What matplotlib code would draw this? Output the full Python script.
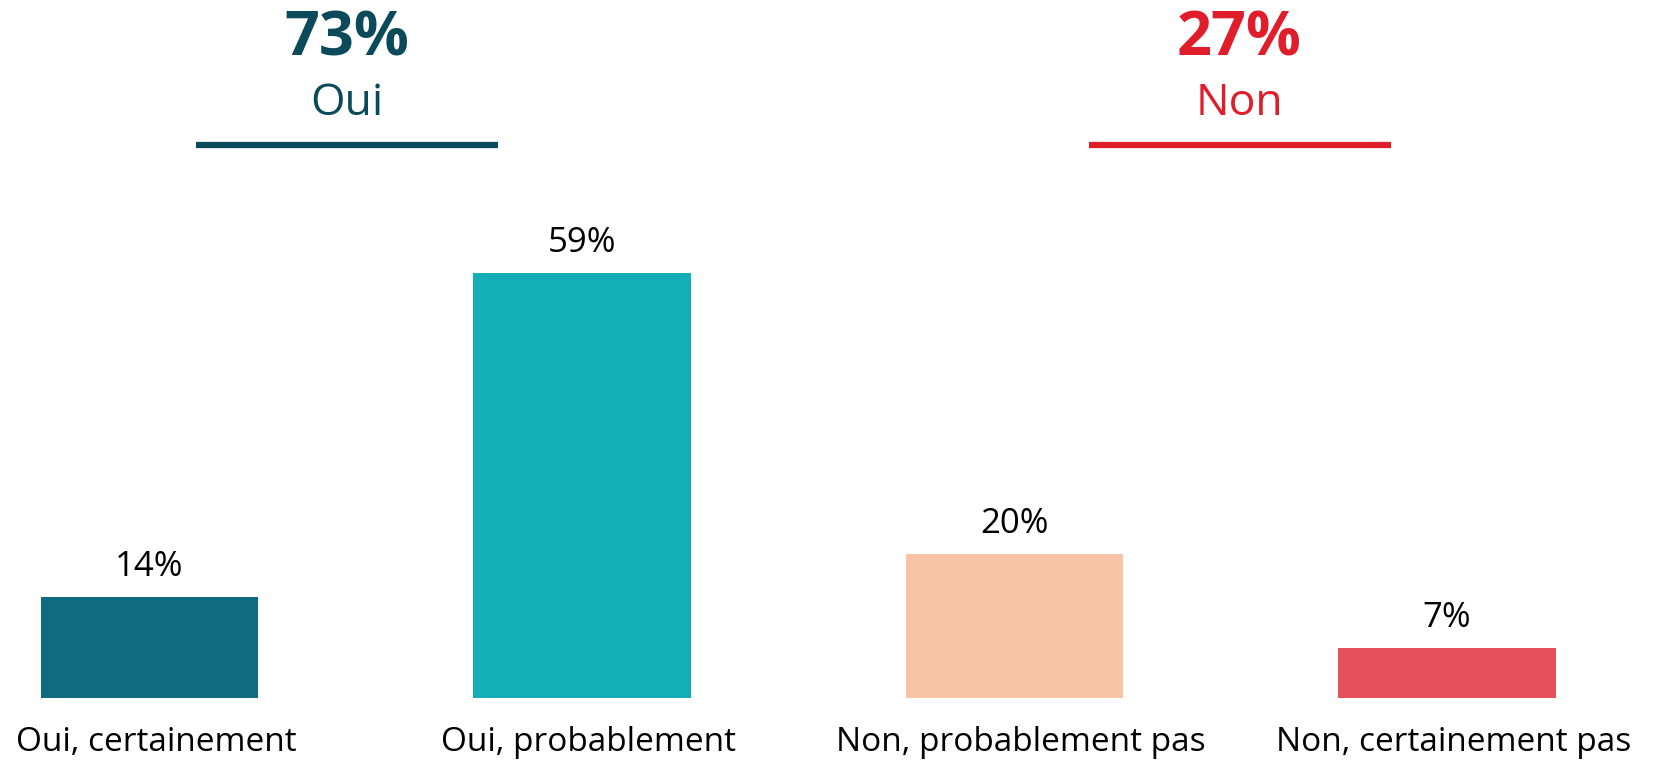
import matplotlib.pyplot as plt

# data
categories = ['Oui, certainement', 'Oui, probablement', 'Non, probablement pas', 'Non, certainement pas']
values = [14, 59, 20, 7]
bar_colors = ['#0F6B80', '#14AEB7', '#F7C4A5', '#E5505A']
groups = ['Oui', 'Non']
group_totals = [73, 27]
group_colors = ['#0B4A5A', '#E01E2B']

plt.rcParams['font.family'] = ['Open Sans', 'DejaVu Sans']

W, H = 1655, 760
fig = plt.figure(figsize=(W / 100, H / 100), dpi=100)

# bars: centers at 149.5 px, pitch 432.5 px, bottom at 62 px, 7.2 px per %
ax = fig.add_axes([0, 62 / H, 1, 1 - 62 / H])
ax.set_xlim((0 - 149.5) / 432.5, (W - 149.5) / 432.5)
ax.set_ylim(0, (H - 62) / 7.2)
ax.axis('off')

x = range(len(values))
bars = ax.bar(x, values, width=0.502, color=bar_colors)

for xi, v in zip(x, values):
    ax.annotate(f'{v}%', (xi, v), xytext=(0, 15), textcoords='offset points',
                ha='center', va='baseline', fontsize=25, color='black')
    ax.annotate(categories[xi], (xi + 0.015, 0), xytext=(0, -38), textcoords='offset points',
                ha='center', va='baseline', fontsize=24, color='black',
                annotation_clip=False)

# group headers
centers_px = [347, 1239.5]
for name, total, col, cx in zip(groups, group_totals, group_colors, centers_px):
    fig.text(cx / W, 1 - 55 / H, f'{total}%', ha='center', va='baseline',
             fontsize=44, fontweight='bold', color=col)
    fig.text(cx / W, 1 - 115 / H, name, ha='center', va='baseline',
             fontsize=32, color=col)
    fig.add_artist(plt.Line2D([(cx - 151) / W, (cx + 151) / W], [1 - 145 / H, 1 - 145 / H],
                              color=col, linewidth=4.5, solid_capstyle='butt'))

fig.savefig('out.png', dpi=100)
